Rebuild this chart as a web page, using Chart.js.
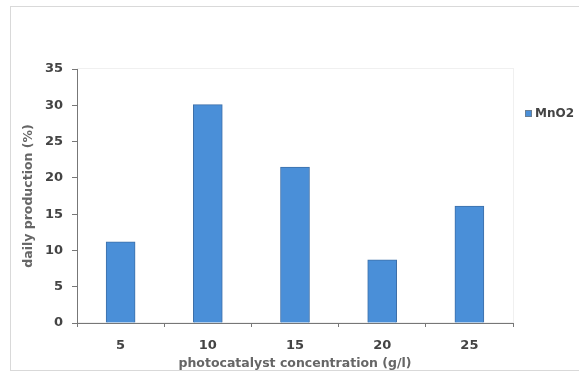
<!DOCTYPE html>
<html>
<head>
<meta charset="utf-8">
<script src="https://cdn.jsdelivr.net/npm/chart.js@4.4.1/dist/chart.umd.min.js"></script>
<style>
html,body{margin:0;padding:0;background:#fff;}
#wrap{width:579px;height:376px;position:relative;}
</style>
</head>
<body>
<div id="wrap"><canvas id="c" width="579" height="376"></canvas></div>
<script>
const categories = ['5', '10', '15', '20', '25'];
const seriesName = 'MnO2';
const values = [11.2, 30.1, 21.5, 8.7, 16.1];
const yTicks = [0, 5, 10, 15, 20, 25, 30, 35];

const FONT = '"DejaVu Sans", Verdana, sans-serif';

const frame = {
  id: 'frame',
  beforeDraw(chart) {
    const ctx = chart.ctx;
    ctx.save();
    ctx.fillStyle = '#fff';
    ctx.fillRect(0, 0, chart.width, chart.height);
    ctx.strokeStyle = '#d9d9d9';
    ctx.lineWidth = 1;
    ctx.strokeRect(10.5, 6.5, 580, 364);
    const a = chart.chartArea;
    ctx.strokeStyle = '#f0f0f0';
    ctx.strokeRect(a.left + 0.5, a.top - 0.5, a.right - a.left, a.bottom - a.top);
    ctx.restore();
  },
  afterDraw(chart) {
    const ctx = chart.ctx;
    const ds = chart.data.datasets[0];
    ctx.save();
    ctx.fillStyle = ds.backgroundColor;
    ctx.fillRect(525, 110, 7, 7);
    ctx.strokeStyle = '#6a7f94';
    ctx.strokeRect(525.5, 110.5, 6, 6);
    ctx.fillStyle = '#444';
    ctx.font = 'bold 12px ' + FONT;
    ctx.textBaseline = 'middle';
    ctx.fillText(ds.label, 535, 114);
    ctx.restore();
  }
};

new Chart(document.getElementById('c'), {
  type: 'bar',
  data: {
    labels: categories,
    datasets: [{
      label: seriesName,
      data: values,
      backgroundColor: '#4a8fd8',
      borderColor: '#3d6fa8',
      borderWidth: 1,
      barThickness: 29
    }]
  },
  options: {
    responsive: false,
    animation: false,
    events: [],
    layout: { padding: { left: 21, right: 66, top: 69, bottom: 5 } },
    plugins: { legend: { display: false }, tooltip: { enabled: false } },
    scales: {
      x: {
        offset: true,
        grid: { display: true, drawOnChartArea: false, offset: true, tickLength: 4, color: '#777' },
        border: { display: true, color: '#777', width: 1 },
        ticks: { color: '#444', padding: 11, font: { family: FONT, size: 13, weight: 'bold' } },
        title: { display: true, text: 'photocatalyst concentration (g/l)', color: '#666', padding: { top: 0, bottom: 0 },
          font: { family: FONT, size: 12.5, weight: 'bold' } },
        afterFit(s) { s.height = 48; }
      },
      y: {
        min: 0, max: 35,
        afterBuildTicks(s) { s.ticks = yTicks.map(v => ({ value: v })); },
        grid: { display: true, drawOnChartArea: false, tickLength: 5, color: '#777' },
        border: { display: true, color: '#777', width: 1 },
        ticks: { color: '#444', padding: 9, font: { family: FONT, size: 13, weight: 'bold' } },
        title: { display: true, text: 'daily production (%)', color: '#666', padding: { top: 0, bottom: 0 },
          font: { family: FONT, size: 12.5, weight: 'bold' } },
        afterFit(s) { s.width = 56; }
      }
    }
  },
  plugins: [frame]
});
</script>
</body>
</html>
